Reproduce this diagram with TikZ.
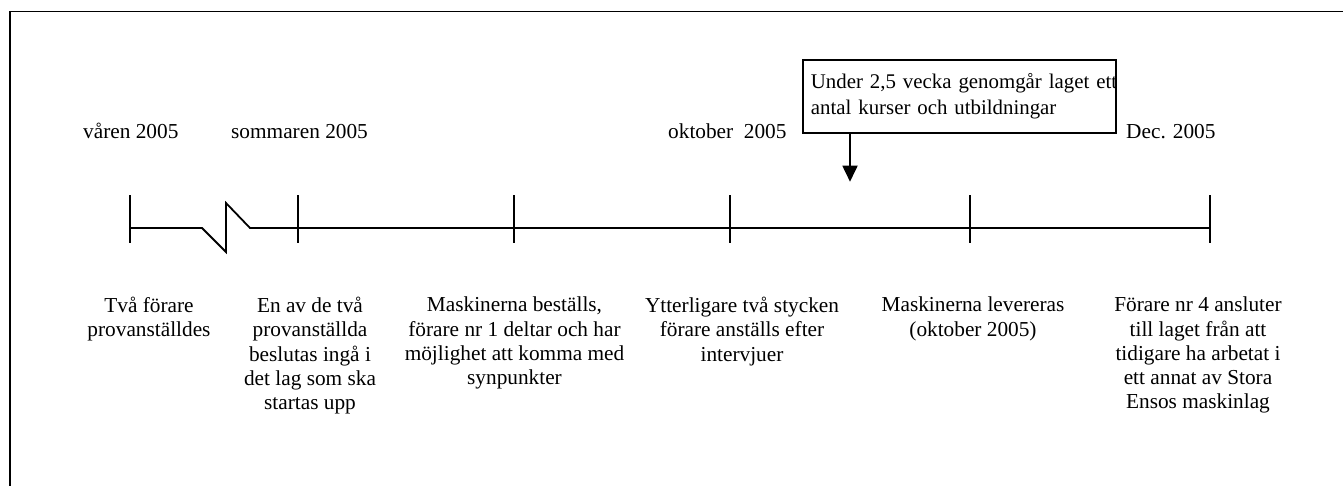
\documentclass[tikz,border=0pt]{standalone}
\usepackage{fontspec}
\setmainfont{Liberation Serif}
\usetikzlibrary{arrows.meta}
\begin{document}
\begin{tikzpicture}[x=1pt,y=-1pt,
  lw/.style={line width=1.8pt},
  txt/.style={font=\fontsize{21.3pt}{24.2pt}\selectfont, inner sep=0pt},
  evt/.style={txt, align=center, anchor=north},
  datelbl/.style={txt, anchor=base west},
  tickline/.style={lw},
  infobox/.style={draw, lw, align=left, text width=297pt, inner xsep=7.7pt, inner ysep=0pt,
    minimum height=72.4pt, anchor=north west, font=\fontsize{20.85pt}{26pt}\selectfont}]
\useasboundingbox (0,0) rectangle (1343,485);
% frame (only left and top edges visible)
\coordinate (fbl) at (10,486);
\coordinate (ftl) at (10,11.5);
\coordinate (ftr) at (1344,11.5);
\draw[lw] (fbl) -- (ftl) -- (ftr);
% tick positions
\coordinate (t1) at (130,228);
\coordinate (t2) at (298,228);
\coordinate (t3) at (514,228);
\coordinate (t4) at (730,228);
\coordinate (t5) at (970,228);
\coordinate (t6) at (1210,228);
% break
\coordinate (b1) at (202,228);
\coordinate (b2) at (226,252);
\coordinate (b3) at (226,203);
\coordinate (b4) at (250,228);
\draw[lw, line join=miter] (t1) -- (b1) -- (b2) -- (b3) -- (b4) -- (t2) -- (t3) -- (t4) -- (t5) -- (t6);
\foreach \t in {t1,t2,t3,t4,t5,t6}
  \draw[tickline] ([yshift=33pt]\t) -- ([yshift=-15pt]\t);
% date labels
\node[datelbl] (d1) at (83,138) {våren 2005};
\node[datelbl] (d2) at (231,138) {sommaren 2005};
\node[datelbl] (d3) at (668,138) {oktober\ \ 2005};
\node[datelbl] (d4) at (1126,138) {Dec. 2005};
% info box with arrow
\node[infobox] (box) at (802.3,59.3) {\mbox{Under 2,5 vecka genomgår laget ett}\\antal kurser och utbildningar};
\coordinate (tip) at (850,181.7);
\draw[lw, -{Triangle[width=15pt,length=16pt]}] (box.south -| tip) -- (tip);
% event texts
\node[evt] (e1) at (149,297) {Två förare\\provanställdes};
\node[evt] (e2) at (310,297) {En av de två\\provanställda\\beslutas ingå i\\det lag som ska\\startas upp};
\node[evt] (e3) at (514.5,297) {Maskinerna beställs,\\förare nr 1 deltar och har\\möjlighet att komma med\\synpunkter};
\node[evt] (e4) at (742,297) {Ytterligare två stycken\\förare anställs efter\\intervjuer};
\node[evt] (e5) at (973,297) {Maskinerna levereras\\(oktober 2005)};
\node[evt] (e6) at (1198,297) {Förare nr 4 ansluter\\till laget från att\\tidigare ha arbetat i\\ett annat av Stora\\Ensos maskinlag};
\end{tikzpicture}
\end{document}
